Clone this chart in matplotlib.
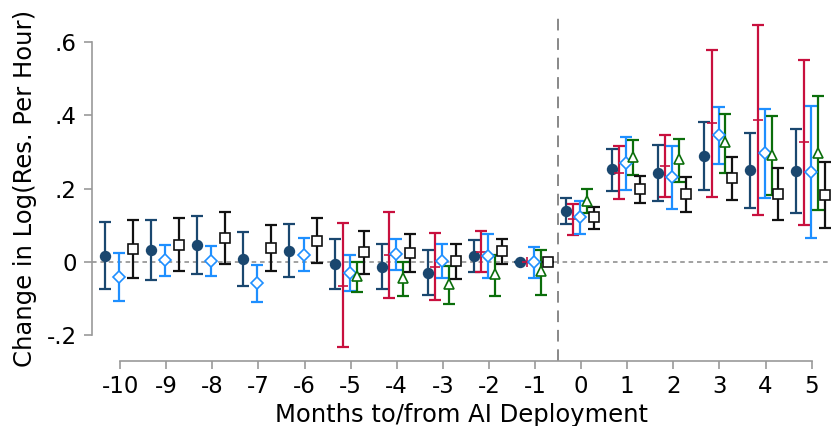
#!/usr/bin/env python3
"""Event-study coefficients: change in log(resolutions per hour) around AI deployment."""

import matplotlib
matplotlib.use("Agg")
import matplotlib.pyplot as plt
import numpy as np

# months relative to deployment
MONTHS_ALL = list(range(-10, 6))
MONTHS_LATE = list(range(-5, 6))

# series 1: navy filled circles (all months)
navy_est = [0.017, 0.033, 0.047, 0.008, 0.031, -0.005, -0.013, -0.029, 0.017, 0.0,
            0.139, 0.252, 0.243, 0.290, 0.250, 0.249]
navy_lo = [-0.074, -0.048, -0.032, -0.065, -0.040, -0.073, -0.075, -0.090, -0.028, 0.0,
           0.103, 0.194, 0.167, 0.196, 0.148, 0.134]
navy_hi = [0.110, 0.113, 0.126, 0.082, 0.103, 0.063, 0.050, 0.033, 0.060, 0.0,
           0.175, 0.309, 0.320, 0.381, 0.352, 0.363]

# series 2: crimson plus (months -5..5)
red_est = [-0.065, 0.019, -0.013, 0.028, 0.0, 0.116, 0.243, 0.262, 0.378, 0.387, 0.326]
red_lo = [-0.233, -0.099, -0.103, -0.027, 0.0, 0.073, 0.171, 0.176, 0.177, 0.128, 0.101]
red_hi = [0.105, 0.137, 0.080, 0.083, 0.0, 0.159, 0.316, 0.346, 0.577, 0.646, 0.551]

# series 3: blue hollow diamonds (all months)
blue_est = [-0.041, 0.004, 0.003, -0.057, 0.020, -0.031, 0.021, 0.003, 0.017, 0.0,
            0.122, 0.269, 0.231, 0.345, 0.296, 0.245]
blue_lo = [-0.106, -0.038, -0.037, -0.108, -0.025, -0.078, -0.022, -0.045, -0.043, -0.045,
           0.077, 0.197, 0.143, 0.267, 0.175, 0.065]
blue_hi = [0.023, 0.045, 0.044, -0.008, 0.065, 0.018, 0.063, 0.048, 0.077, 0.040,
           0.165, 0.341, 0.317, 0.423, 0.416, 0.426]

# series 4: green hollow triangles (months -5..5)
green_est = [-0.038, -0.045, -0.060, -0.034, -0.026, 0.167, 0.285, 0.280, 0.326, 0.292, 0.298]
green_lo = [-0.083, -0.092, -0.115, -0.092, -0.091, 0.133, 0.238, 0.218, 0.242, 0.183, 0.141]
green_hi = [0.000, 0.000, -0.010, 0.019, 0.033, 0.199, 0.331, 0.336, 0.404, 0.398, 0.452]

# series 5: black hollow squares (all months)
black_est = [0.036, 0.046, 0.066, 0.038, 0.058, 0.026, 0.025, 0.002, 0.029, 0.0,
             0.122, 0.199, 0.184, 0.228, 0.184, 0.183]
black_lo = [-0.043, -0.026, -0.005, -0.025, -0.003, -0.033, -0.028, -0.047, -0.007, 0.0,
            0.091, 0.161, 0.135, 0.168, 0.113, 0.093]
black_hi = [0.115, 0.120, 0.135, 0.101, 0.119, 0.083, 0.075, 0.048, 0.063, 0.0,
            0.149, 0.235, 0.232, 0.287, 0.256, 0.272]

X_TICKS = MONTHS_ALL
Y_TICKS = [-0.2, 0.0, 0.2, 0.4, 0.6]
Y_LABELS = ["-.2", "0", ".2", ".4", ".6"]

SERIES = [
    # months, est, lo, hi, offset, color, marker, filled, size
    (MONTHS_ALL, navy_est, navy_lo, navy_hi, -0.33, "#1a476f", "o", True, 7),
    (MONTHS_LATE, red_est, red_lo, red_hi, -0.17, "#c8103e", "+", True, 7),
    (MONTHS_ALL, blue_est, blue_lo, blue_hi, -0.02, "#1e8fff", "D", False, 6.5),
    (MONTHS_LATE, green_est, green_lo, green_hi, 0.13, "#0b6e0b", "^", False, 7),
    (MONTHS_ALL, black_est, black_lo, black_hi, 0.28, "#111111", "s", False, 6.5),
]


def main():
    fig = plt.figure(figsize=(8.31, 4.26), dpi=100)
    ax = fig.add_axes([0.1107, 0.1526, 0.8893, 0.8122])

    for months, est, lo, hi, off, color, marker, filled, ms in SERIES:
        x = np.array(months) + off
        est = np.array(est)
        yerr = [est - np.array(lo), np.array(hi) - est]
        ax.errorbar(x, est, yerr=yerr, fmt="none", ecolor=color,
                    elinewidth=1.6, capsize=4.2, capthick=1.6, zorder=3)
        ax.plot(x, est, linestyle="none", marker=marker, markersize=ms,
                color=color, markerfacecolor=color if filled else "white",
                markeredgecolor=color, markeredgewidth=1.2, zorder=4)

    ax.axhline(0, color="#888888", linestyle=(0, (3, 2.5)), linewidth=1.1, zorder=1)
    ax.axvline(-0.5, color="#888888", linestyle=(0, (6, 4)), linewidth=1.4, zorder=1)

    ax.set_xlim(-10.61, 5.42)
    ax.set_ylim(-0.27, 0.673)

    for side in ("top", "right"):
        ax.spines[side].set_visible(False)
    for side in ("left", "bottom"):
        ax.spines[side].set_color("#999999")
        ax.spines[side].set_linewidth(1.2)
    ax.spines["left"].set_bounds(-0.2, 0.6)
    ax.spines["bottom"].set_bounds(-10, 5)

    ax.set_xticks(X_TICKS)
    ax.set_xticklabels([str(m) for m in X_TICKS])
    ax.set_yticks(Y_TICKS)
    ax.set_yticklabels(Y_LABELS)
    ax.tick_params(axis="both", labelsize=16.5, color="#999999", width=1.2,
                   length=6, labelcolor="black")
    ax.tick_params(axis="x", pad=4)
    ax.tick_params(axis="y", pad=5)

    ax.set_xlabel("Months to/from AI Deployment", fontsize=17.5, labelpad=4)
    ax.set_ylabel("Change in Log(Res. Per Hour)", fontsize=17.5, labelpad=7)

    fig.savefig("out.png", dpi=100)
    plt.close(fig)


if __name__ == "__main__":
    main()
